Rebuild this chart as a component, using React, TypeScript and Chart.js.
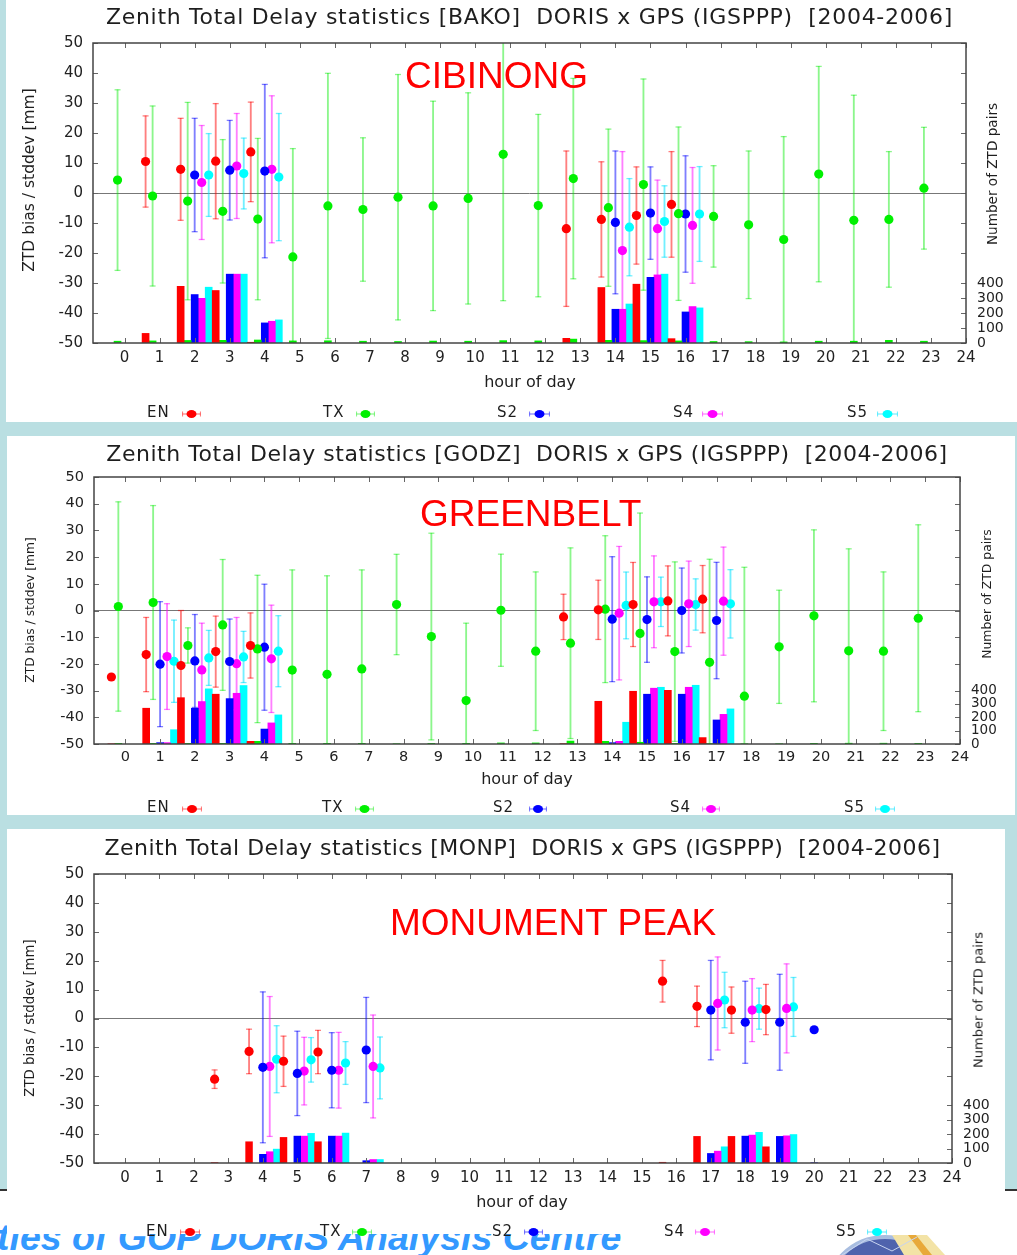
import React, { useEffect, useRef } from 'react';
import { Chart, registerables } from 'chart.js';

Chart.register(...registerables);

const FONT = "'DejaVu Sans', sans-serif";

const HOUR_TICKS = [0, 1, 2, 3, 4, 5, 6, 7, 8, 9, 10, 11, 12, 13, 14, 15, 16, 17, 18, 19, 20, 21, 22, 23, 24];
const BIAS_TICKS = [-50, -40, -30, -20, -10, 0, 10, 20, 30, 40, 50];
const COUNT_TICKS = [0, 100, 200, 300, 400];
const LEGEND_NAMES = ['EN', 'TX', 'S2', 'S4', 'S5'];
const ALL_HOURS = [0, 1, 2, 3, 4, 5, 6, 7, 8, 9, 10, 11, 12, 13, 14, 15, 16, 17, 18, 19, 20, 21, 22, 23];

// ---------------- BAKO (CIBINONG) ----------------
const BAKO_EN_HOURS = [1, 2, 3, 4, 13, 14, 15, 16];
const BAKO_EN_BIAS = [10.5, 7.9, 10.6, 13.7, -11.9, -8.8, -7.5, -3.8];
const BAKO_EN_SD = [15.2, 17.0, 19.2, 16.6, 25.9, 19.2, 16.2, 17.6];
const BAKO_EN_COUNT = [64, 378, 350, 5, 31, 370, 392, 29];

const BAKO_TX_HOURS = ALL_HOURS;
const BAKO_TX_BIAS = [4.3, -1.0, -2.7, -6.1, -8.7, -21.3, -4.3, -5.5, -1.4, -4.3, -1.8, 12.9, -4.2, 4.8, -4.9, 2.8, -6.9, -7.8, -10.6, -15.5, 6.3, -9.1, -8.8, 1.6];
const BAKO_TX_SD = [30.1, 30.0, 32.9, 23.9, 26.9, 36.1, 44.2, 23.9, 40.9, 34.9, 35.2, 48.8, 30.4, 33.4, 26.2, 35.2, 28.9, 16.9, 24.6, 34.3, 35.9, 41.7, 22.6, 20.3];
const BAKO_TX_COUNT = [12, 14, 17, 18, 20, 14, 15, 12, 10, 13, 12, 16, 14, 26, 18, 16, 14, 10, 9, 7, 12, 12, 18, 12];

const BAKO_S2_HOURS = [2, 3, 4, 14, 15, 16];
const BAKO_S2_BIAS = [6.0, 7.6, 7.3, -9.8, -6.7, -7.0];
const BAKO_S2_SD = [18.9, 16.6, 28.9, 23.8, 15.4, 19.4];
const BAKO_S2_COUNT = [323, 459, 134, 225, 438, 207];

const BAKO_S4_HOURS = [2, 3, 4, 14, 15, 16];
const BAKO_S4_BIAS = [3.5, 9.0, 7.9, -19.2, -11.9, -10.8];
const BAKO_S4_SD = [19.0, 17.5, 24.5, 33.0, 16.2, 19.3];
const BAKO_S4_COUNT = [298, 459, 145, 225, 454, 243];

const BAKO_S5_HOURS = [2, 3, 4, 14, 15, 16];
const BAKO_S5_BIAS = [6.0, 6.5, 5.3, -11.4, -9.5, -7.0];
const BAKO_S5_SD = [13.8, 11.8, 21.2, 16.2, 11.9, 15.8];
const BAKO_S5_COUNT = [372, 459, 154, 260, 459, 234];

// ---------------- GODZ (GREENBELT) ----------------
const GODZ_EN_HOURS = [0, 1, 2, 3, 4, 13, 14, 15, 16, 17];
const GODZ_EN_BIAS = [-24.9, -16.5, -20.6, -15.4, -13.1, -2.4, 0.25, 2.25, 3.6, 4.25];
const GODZ_EN_SD = [0.5, 13.9, 20.6, 13.3, 12.2, 8.5, 11.1, 15.75, 13.1, 12.6];
const GODZ_EN_COUNT = [2, 268, 347, 373, 20, 3, 320, 395, 402, 48];

const GODZ_TX_HOURS = ALL_HOURS;
const GODZ_TX_BIAS = [1.5, 3.0, -13.1, -5.4, -14.4, -22.3, -23.9, -21.9, 2.25, -9.75, -33.75, 0.1, -15.25, -12.25, 0.5, -8.6, -15.4, -19.4, -32.1, -13.6, -2.0, -15.1, -15.25, -2.9];
const GODZ_TX_SD = [39.2, 36.3, 6.6, 24.5, 27.6, 37.5, 36.9, 37.1, 18.8, 38.7, 29.0, 21.0, 29.7, 35.7, 27.5, 45.1, 33.6, 38.6, 48.3, 21.2, 32.2, 38.2, 29.7, 35.0];
const GODZ_TX_COUNT = [5, 5, 5, 5, 20, 5, 5, 5, 2, 5, 5, 8, 8, 22, 20, 13, 5, 3, 2, 2, 5, 6, 6, 5];

const GODZ_S2_HOURS = [1, 2, 3, 4, 14, 15, 16, 17];
const GODZ_S2_BIAS = [-20.1, -18.9, -19.1, -13.75, -3.25, -3.4, 0.0, -3.75];
const GODZ_S2_SD = [23.4, 17.4, 15.9, 23.6, 23.4, 16.0, 15.9, 21.8];
const GODZ_S2_COUNT = [10, 268, 340, 112, 10, 373, 373, 180];

const GODZ_S4_HOURS = [1, 2, 3, 4, 14, 15, 16, 17];
const GODZ_S4_BIAS = [-17.25, -22.25, -19.9, -18.1, -1.0, 3.25, 2.5, 3.5];
const GODZ_S4_SD = [19.8, 17.5, 17.3, 20.1, 25.0, 17.2, 16.0, 20.25];
const GODZ_S4_COUNT = [10, 318, 380, 158, 20, 418, 425, 222];

const GODZ_S5_HOURS = [1, 2, 3, 4, 14, 15, 16, 17];
const GODZ_S5_BIAS = [-19.0, -17.75, -17.4, -15.25, 1.9, 3.25, 2.25, 2.5];
const GODZ_S5_SD = [15.4, 10.3, 9.6, 13.3, 12.5, 9.25, 9.6, 12.8];
const GODZ_S5_COUNT = [107, 413, 438, 218, 163, 425, 440, 263];

// ---------------- MONP (MONUMENT PEAK) ----------------
const MONP_EN_HOURS = [3, 4, 5, 6, 16, 17, 18, 19];
const MONP_EN_BIAS = [-21.0, -11.4, -14.8, -11.6, 12.9, 4.2, 2.9, 3.1];
const MONP_EN_SD = [3.2, 7.7, 8.7, 7.5, 7.2, 7.0, 8.0, 8.7];
const MONP_EN_COUNT = [3, 147, 177, 147, 5, 184, 184, 112];

const MONP_S2_HOURS = [4, 5, 6, 7, 17, 18, 19, 20];
const MONP_S2_BIAS = [-16.9, -19.0, -17.9, -10.9, 2.9, -1.3, -1.3, -3.9];
const MONP_S2_SD = [26.1, 14.6, 13.0, 18.2, 17.2, 14.2, 16.6, 0.3];
const MONP_S2_COUNT = [60, 186, 186, 16, 66, 186, 184, 2];

const MONP_S4_HOURS = [4, 5, 6, 7, 17, 18, 19];
const MONP_S4_BIAS = [-16.6, -18.2, -17.9, -16.6, 5.2, 2.9, 3.5];
const MONP_S4_SD = [24.2, 11.7, 13.1, 17.8, 16.1, 10.9, 15.4];
const MONP_S4_COUNT = [78, 186, 186, 24, 82, 193, 188];

const MONP_S5_HOURS = [4, 5, 6, 7, 17, 18, 19];
const MONP_S5_BIAS = [-14.1, -14.3, -15.4, -17.1, 6.4, 3.4, 4.0];
const MONP_S5_SD = [11.6, 7.7, 7.4, 10.7, 9.6, 7.1, 10.2];
const MONP_S5_COUNT = [96, 205, 207, 24, 112, 212, 197];

type SeriesData = { name: string; hours: number[]; bias: number[]; sd: number[]; count: number[] };

const STYLE: Record<string, { color: string; light: string; offset: number }> = {
  EN: { color: '#ff0000', light: 'rgba(255,0,0,0.5)', offset: -0.4 },
  TX: { color: '#00f000', light: 'rgba(0,235,0,0.45)', offset: -0.2 },
  S2: { color: '#0000ff', light: 'rgba(0,0,255,0.5)', offset: 0 },
  S4: { color: '#ff00ff', light: 'rgba(255,0,255,0.5)', offset: 0.2 },
  S5: { color: '#00ffff', light: 'rgba(0,225,255,0.55)', offset: 0.4 },
};

const BAKO_SERIES: SeriesData[] = [
  { name: 'EN', hours: BAKO_EN_HOURS, bias: BAKO_EN_BIAS, sd: BAKO_EN_SD, count: BAKO_EN_COUNT },
  { name: 'TX', hours: BAKO_TX_HOURS, bias: BAKO_TX_BIAS, sd: BAKO_TX_SD, count: BAKO_TX_COUNT },
  { name: 'S2', hours: BAKO_S2_HOURS, bias: BAKO_S2_BIAS, sd: BAKO_S2_SD, count: BAKO_S2_COUNT },
  { name: 'S4', hours: BAKO_S4_HOURS, bias: BAKO_S4_BIAS, sd: BAKO_S4_SD, count: BAKO_S4_COUNT },
  { name: 'S5', hours: BAKO_S5_HOURS, bias: BAKO_S5_BIAS, sd: BAKO_S5_SD, count: BAKO_S5_COUNT },
];
const GODZ_SERIES: SeriesData[] = [
  { name: 'EN', hours: GODZ_EN_HOURS, bias: GODZ_EN_BIAS, sd: GODZ_EN_SD, count: GODZ_EN_COUNT },
  { name: 'TX', hours: GODZ_TX_HOURS, bias: GODZ_TX_BIAS, sd: GODZ_TX_SD, count: GODZ_TX_COUNT },
  { name: 'S2', hours: GODZ_S2_HOURS, bias: GODZ_S2_BIAS, sd: GODZ_S2_SD, count: GODZ_S2_COUNT },
  { name: 'S4', hours: GODZ_S4_HOURS, bias: GODZ_S4_BIAS, sd: GODZ_S4_SD, count: GODZ_S4_COUNT },
  { name: 'S5', hours: GODZ_S5_HOURS, bias: GODZ_S5_BIAS, sd: GODZ_S5_SD, count: GODZ_S5_COUNT },
];
const MONP_SERIES: SeriesData[] = [
  { name: 'EN', hours: MONP_EN_HOURS, bias: MONP_EN_BIAS, sd: MONP_EN_SD, count: MONP_EN_COUNT },
  { name: 'S2', hours: MONP_S2_HOURS, bias: MONP_S2_BIAS, sd: MONP_S2_SD, count: MONP_S2_COUNT },
  { name: 'S4', hours: MONP_S4_HOURS, bias: MONP_S4_BIAS, sd: MONP_S4_SD, count: MONP_S4_COUNT },
  { name: 'S5', hours: MONP_S5_HOURS, bias: MONP_S5_BIAS, sd: MONP_S5_SD, count: MONP_S5_COUNT },
];

type PanelCfg = {
  key: string;
  series: SeriesData[];
  box: { x: number; y: number; w: number; h: number };
  area: { left: number; right: number; top: number; bottom: number };
  tickSize: number;
  countSize: number;
  xPad: number;
  barW: number;
  title: string;
  titleX: number;
  titleBase: number;
  titleLs: number;
  station: string;
  stationX: number;
  stationBase: number;
  yTitle: { cx: number; cy: number; size: number };
  y2Title: { cx: number; cy: number; size: number };
  hourX: number;
  hourBase: number;
  legendBase: number;
  legend: { t: number; m0: number; m1: number }[];
};

const PANELS: PanelCfg[] = [
  {
    key: 'BAKO', series: BAKO_SERIES,
    box: { x: 6, y: 0, w: 1011, h: 422 },
    area: { left: 93, right: 966, top: 43, bottom: 343 },
    tickSize: 15, countSize: 14, xPad: 6, barW: 7,
    title: 'Zenith Total Delay statistics [BAKO]  DORIS x GPS (IGSPPP)  [2004-2006]', titleX: 529.5, titleBase: 25, titleLs: 0.7,
    station: 'CIBINONG', stationX: 405, stationBase: 88,
    yTitle: { cx: 30, cy: 180, size: 15.5 }, y2Title: { cx: 993, cy: 174, size: 13.6 },
    hourX: 530, hourBase: 388, legendBase: 418,
    legend: [{ t: 147, m0: 182, m1: 201 }, { t: 323, m0: 356, m1: 375 }, { t: 497, m0: 529, m1: 550 }, { t: 673, m0: 702, m1: 723 }, { t: 847, m0: 877, m1: 898 }],
  },
  {
    key: 'GODZ', series: GODZ_SERIES,
    box: { x: 7, y: 436, w: 1008, h: 379 },
    area: { left: 94, right: 960, top: 477, bottom: 744 },
    tickSize: 14.5, countSize: 13.5, xPad: 5, barW: 7,
    title: 'Zenith Total Delay statistics [GODZ]  DORIS x GPS (IGSPPP)  [2004-2006]', titleX: 527, titleBase: 461.5, titleLs: 0.54,
    station: 'GREENBELT', stationX: 420, stationBase: 526.5,
    yTitle: { cx: 30, cy: 610, size: 12.3 }, y2Title: { cx: 987, cy: 594, size: 12.4 },
    hourX: 527, hourBase: 785, legendBase: 813,
    legend: [{ t: 147, m0: 182, m1: 202 }, { t: 322, m0: 355, m1: 374 }, { t: 493, m0: 529, m1: 547 }, { t: 670, m0: 702, m1: 720 }, { t: 844, m0: 875, m1: 895 }],
  },
  {
    key: 'MONP', series: MONP_SERIES,
    box: { x: 7, y: 829, w: 998, h: 405 },
    area: { left: 94, right: 952, top: 874, bottom: 1163 },
    tickSize: 15, countSize: 14, xPad: 6, barW: 6.8,
    title: 'Zenith Total Delay statistics [MONP]  DORIS x GPS (IGSPPP)  [2004-2006]', titleX: 522.5, titleBase: 856, titleLs: 0.47,
    station: 'MONUMENT PEAK', stationX: 390, stationBase: 935.5,
    yTitle: { cx: 30, cy: 1018, size: 13.3 }, y2Title: { cx: 978, cy: 1000, size: 13 },
    hourX: 522, hourBase: 1208, legendBase: 1236.5,
    legend: [{ t: 146, m0: 180, m1: 200 }, { t: 320, m0: 352, m1: 372 }, { t: 492, m0: 524, m1: 543 }, { t: 664, m0: 695, m1: 715 }, { t: 836, m0: 867, m1: 887 }],
  },
];

const framePlugin = {
  id: 'gnuFrame',
  afterDatasetsDraw(chart: any) {
    const { ctx, chartArea: a, scales } = chart;
    const tl = 5;
    ctx.save();
    ctx.strokeStyle = '#666';
    ctx.lineWidth = 1;
    ctx.beginPath();
    scales.x.ticks.forEach((t: any) => {
      const px = Math.round(scales.x.getPixelForValue(t.value)) + 0.5;
      ctx.moveTo(px, a.bottom); ctx.lineTo(px, a.bottom - tl);
      ctx.moveTo(px, a.top); ctx.lineTo(px, a.top + tl);
    });
    scales.y.ticks.forEach((t: any) => {
      const py = Math.round(scales.y.getPixelForValue(t.value)) + 0.5;
      ctx.moveTo(a.left, py); ctx.lineTo(a.left + tl, py);
      ctx.moveTo(a.right, py); ctx.lineTo(a.right - tl, py);
    });
    scales.y2.ticks.forEach((t: any) => {
      const py = Math.round(scales.y2.getPixelForValue(t.value)) + 0.5;
      ctx.moveTo(a.right, py); ctx.lineTo(a.right - tl, py);
    });
    ctx.stroke();
    ctx.strokeStyle = '#444';
    ctx.lineWidth = 1.5;
    ctx.strokeRect(a.left, a.top, a.right - a.left, a.bottom - a.top);
    ctx.restore();
  },
};

function buildDatasets(p: PanelCfg) {
  const ds: any[] = [];
  p.series.forEach((s) => {
    const st = STYLE[s.name];
    const xs = s.hours.map((h) => h + st.offset);
    ds.push({
      type: 'bar', yAxisID: 'y2', order: 4, grouped: false, barThickness: p.barW,
      data: xs.map((x, i) => ({ x, y: s.count[i] })),
      backgroundColor: st.color, borderWidth: 0,
    });
    ds.push({
      type: 'bar', yAxisID: 'y', order: 3, grouped: false, barThickness: 1.2,
      data: xs.map((x, i) => ({ x, y: [s.bias[i] - s.sd[i], s.bias[i] + s.sd[i]] })),
      backgroundColor: st.light, borderWidth: 0,
    });
    ds.push({
      type: 'scatter', yAxisID: 'y', order: 2,
      data: xs.flatMap((x, i) => [{ x, y: s.bias[i] - s.sd[i] }, { x, y: s.bias[i] + s.sd[i] }]),
      pointStyle: 'line', pointRadius: 3, pointBorderColor: st.light, pointBorderWidth: 1.3, borderColor: st.light,
    });
    ds.push({
      type: 'scatter', yAxisID: 'y', order: 1,
      data: xs.map((x, i) => ({ x, y: s.bias[i] })),
      pointRadius: 4.6, pointBackgroundColor: st.color, pointBorderWidth: 0, backgroundColor: st.color,
    });
  });
  return ds;
}

function PanelChart({ p }: { p: PanelCfg }) {
  const ref = useRef<HTMLCanvasElement | null>(null);
  useEffect(() => {
    if (!ref.current) return;
    const tickFont = { size: p.tickSize, family: FONT, lineHeight: 1.2 };
    const chart = new Chart(ref.current, {
      type: 'scatter',
      data: { datasets: buildDatasets(p) },
      options: {
        responsive: false,
        animation: false,
        devicePixelRatio: 1,
        events: [],
        layout: { padding: { top: p.area.top - p.box.y, left: 0, right: 0, bottom: 0 } },
        plugins: { legend: { display: false }, tooltip: { enabled: false }, title: { display: false } },
        scales: {
          x: {
            type: 'linear', min: -0.9, max: 24, offset: false,
            afterBuildTicks: (s: any) => { s.ticks = HOUR_TICKS.map((v) => ({ value: v })); },
            afterFit: (s: any) => { s.height = p.box.y + p.box.h - p.area.bottom; },
            ticks: { autoSkip: false, maxRotation: 0, font: tickFont, color: '#222', padding: p.xPad, callback: (v: any) => String(v) },
            grid: { display: false, drawTicks: false, offset: false },
            border: { display: false },
          },
          y: {
            type: 'linear', position: 'left', min: -50, max: 50,
            afterBuildTicks: (s: any) => { s.ticks = BIAS_TICKS.map((v) => ({ value: v })); },
            afterFit: (s: any) => { s.width = p.area.left - p.box.x; },
            ticks: { autoSkip: false, font: tickFont, color: '#222', padding: 10, callback: (v: any) => String(v) },
            grid: {
              drawTicks: false, lineWidth: 1,
              color: (c: any) => (c.tick && c.tick.value === 0 ? '#777' : 'rgba(0,0,0,0)'),
            },
            border: { display: false },
          },
          y2: {
            type: 'linear', position: 'right', min: 0, max: 2000,
            afterBuildTicks: (s: any) => { s.ticks = COUNT_TICKS.map((v) => ({ value: v })); },
            afterFit: (s: any) => { s.width = p.box.x + p.box.w - p.area.right; },
            ticks: { autoSkip: false, font: { size: p.countSize, family: FONT, lineHeight: 1 }, color: '#222', padding: 11, callback: (v: any) => String(v) },
            grid: { display: false, drawTicks: false },
            border: { display: false },
          },
        },
      } as any,
      plugins: [framePlugin],
    });
    return () => chart.destroy();
  }, [p]);
  return (
    <canvas
      ref={ref}
      width={p.box.w}
      height={p.box.h}
      style={{ position: 'absolute', left: p.box.x, top: p.box.y, width: p.box.w, height: p.box.h, background: '#fff' }}
    />
  );
}

function Txt(props: { x: number; base: number; size: number; children: any; family?: string; color?: string; center?: boolean; ls?: number; weight?: any; italic?: boolean }) {
  const { x, base, size, children, family = FONT, color = '#1e1e1e', center, ls = 0, weight, italic } = props;
  return (
    <div
      style={{
        position: 'absolute', left: x, top: base - 0.846 * size, fontSize: size, lineHeight: `${size}px`,
        fontFamily: family, color, whiteSpace: 'pre', letterSpacing: ls, fontWeight: weight,
        fontStyle: italic ? 'italic' : 'normal',
        transform: center ? 'translateX(-50%)' : undefined,
      }}
    >
      {children}
    </div>
  );
}

function VTxt({ cx, cy, size, children }: { cx: number; cy: number; size: number; children: any }) {
  return (
    <div
      style={{
        position: 'absolute', left: cx, top: cy, fontSize: size, lineHeight: `${size}px`, fontFamily: FONT,
        color: '#1e1e1e', whiteSpace: 'nowrap', transform: 'translate(-50%, -50%) rotate(-90deg)',
      }}
    >
      {children}
    </div>
  );
}

function LegendMarker({ x0, x1, cy, name }: { x0: number; x1: number; cy: number; name: string }) {
  const st = STYLE[name];
  const w = x1 - x0;
  return (
    <svg width={w} height={10} style={{ position: 'absolute', left: x0, top: cy - 5 }}>
      <line x1={0.5} y1={5} x2={w - 0.5} y2={5} stroke={st.light} strokeWidth={1.2} />
      <line x1={0.5} y1={2.5} x2={0.5} y2={7.5} stroke={st.light} strokeWidth={1.2} />
      <line x1={w - 0.5} y1={2.5} x2={w - 0.5} y2={7.5} stroke={st.light} strokeWidth={1.2} />
      <ellipse cx={w / 2} cy={5} rx={5} ry={4} fill={st.color} />
    </svg>
  );
}

function PanelOverlay({ p }: { p: PanelCfg }) {
  return (
    <>
      <Txt x={p.titleX} base={p.titleBase} size={22} center ls={p.titleLs}>{p.title}</Txt>
      <Txt x={p.stationX} base={p.stationBase} size={37} family="'Liberation Sans', Arial, sans-serif" color="#ff0000">{p.station}</Txt>
      <VTxt cx={p.yTitle.cx} cy={p.yTitle.cy} size={p.yTitle.size}>ZTD bias / stddev [mm]</VTxt>
      <VTxt cx={p.y2Title.cx} cy={p.y2Title.cy} size={p.y2Title.size}>Number of ZTD pairs</VTxt>
      <Txt x={p.hourX} base={p.hourBase} size={16} center>hour of day</Txt>
      {LEGEND_NAMES.map((n, i) => (
        <React.Fragment key={n}>
          <Txt x={p.legend[i].t} base={p.legendBase} size={15} ls={1}>{n}</Txt>
          <LegendMarker x0={p.legend[i].m0} x1={p.legend[i].m1} cy={p.legendBase - 4.5} name={n} />
        </React.Fragment>
      ))}
    </>
  );
}

export default function App() {
  return (
    <div style={{ position: 'absolute', left: 0, top: 0, width: 1017, height: 1255, overflow: 'hidden', background: '#ffffff' }}>
      <div style={{ position: 'absolute', left: 0, top: 0, width: 1017, height: 1190, background: '#badfe2' }} />
      <div style={{ position: 'absolute', left: 0, top: 1189, width: 1017, height: 2, background: '#333' }} />
      <div
        style={{
          position: 'absolute', left: -3, top: 1250 - 0.8465 * 37, fontSize: 37.5, lineHeight: '37px',
          fontFamily: "'Liberation Sans', Arial, sans-serif", fontWeight: 'bold', fontStyle: 'italic',
          color: '#3399ff', whiteSpace: 'nowrap',
        }}
      >
        ties of GOP DORIS Analysis Centre
      </div>
      <svg width={130} height={20} style={{ position: 'absolute', left: 822, top: 1235 }}>
        <ellipse cx={63} cy={62} rx={60} ry={60} fill="#4f63ad" stroke="#a8bde0" strokeWidth={4} />
        <polygon points="70,0 105,0 123,20 82,20" fill="#f3e3a6" />
        <polygon points="86,0 94,0 110,20 101,20" fill="#e8a93a" />
        <polyline points="20,20 45,4 70,16 95,2" fill="none" stroke="#c8d4f0" strokeWidth={1} />
      </svg>
      {PANELS.map((p) => (
        <PanelChart key={p.key} p={p} />
      ))}
      {PANELS.map((p) => (
        <PanelOverlay key={p.key + '-o'} p={p} />
      ))}
    </div>
  );
}
